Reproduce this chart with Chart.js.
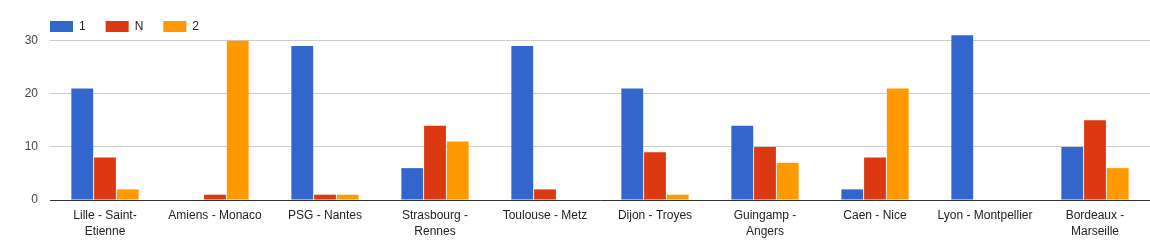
<!DOCTYPE html>
<html>
<head>
<meta charset="utf-8">
<script src="https://cdn.jsdelivr.net/npm/chart.js@4"></script>
<style>
  html, body { margin: 0; padding: 0; background: #fff; }
  #wrap { width: 1150px; height: 250px; }
</style>
</head>
<body>
<div id="wrap"><canvas id="chart" width="1150" height="250"></canvas></div>
<script>
// matchs et résultats (1 = victoire domicile, N = nul, 2 = victoire extérieur)
var matches = [
  ['Lille - Saint-', 'Etienne'],
  'Amiens - Monaco',
  'PSG - Nantes',
  ['Strasbourg -', 'Rennes'],
  'Toulouse - Metz',
  'Dijon - Troyes',
  ['Guingamp -', 'Angers'],
  'Caen - Nice',
  'Lyon - Montpellier',
  ['Bordeaux -', 'Marseille']
];
var seriesNames = ['1', 'N', '2'];
var homeWins = [21, 0, 29, 6, 29, 21, 14, 2, 31, 10];
var draws    = [8, 1, 1, 14, 2, 9, 10, 8, 0, 15];
var awayWins = [2, 30, 1, 11, 0, 1, 7, 21, 0, 6];
var yTicks = [0, 10, 20, 30];

var colors = ['#3366cc', '#dc3912', '#ff9900'];
var FONT = 'Arial, "Liberation Sans", sans-serif';

// petite légende façon Google Charts, alignée sur la zone du graphique
var legendPlugin = {
  id: 'gLegend',
  afterDraw: function(chart){
    var ctx = chart.ctx;
    var x = chart.chartArea.left;
    var y = 21;
    ctx.save();
    ctx.font = '12px ' + FONT;
    ctx.textBaseline = 'middle';
    chart.data.datasets.forEach(function(ds){
      ctx.fillStyle = ds.backgroundColor;
      ctx.fillRect(x, y, 23, 11);
      ctx.fillStyle = '#222';
      ctx.fillText(ds.label, x + 29, y + 6);
      x += 29 + ctx.measureText(ds.label).width + 20;
    });
    ctx.restore();
  }
};

var data = [homeWins, draws, awayWins];

new Chart(document.getElementById('chart').getContext('2d'), {
  type: 'bar',
  data: {
    labels: matches,
    datasets: seriesNames.map(function(name, i){
      return {
        label: name,
        data: data[i],
        backgroundColor: colors[i],
        borderWidth: 0,
        categoryPercentage: 0.62,
        barPercentage: 0.96
      };
    })
  },
  options: {
    responsive: false,
    animation: false,
    layout: { padding: { top: 30, left: 0, right: 0, bottom: 0 } },
    plugins: {
      legend: { display: false },
      tooltip: { enabled: false }
    },
    scales: {
      x: {
        grid: { display: false },
        border: { display: true, color: '#333', width: 1 },
        ticks: {
          color: '#222',
          font: { family: FONT, size: 12, lineHeight: 1.33 },
          maxRotation: 0,
          autoSkip: false,
          padding: 0
        },
        afterFit: function(scale){ scale.height = 50; }
      },
      y: {
        min: 0,
        max: 32,
        ticks: {
          stepSize: 10,
          color: '#444',
          font: { family: FONT, size: 12 },
          padding: 12
        },
        grid: { color: '#cccccc', drawTicks: false },
        border: { display: false },
        afterBuildTicks: function(scale){
          scale.ticks = yTicks.map(function(v){ return { value: v }; });
        },
        afterFit: function(scale){ scale.width = 50; }
      }
    }
  },
  plugins: [legendPlugin]
});
</script>
</body>
</html>
